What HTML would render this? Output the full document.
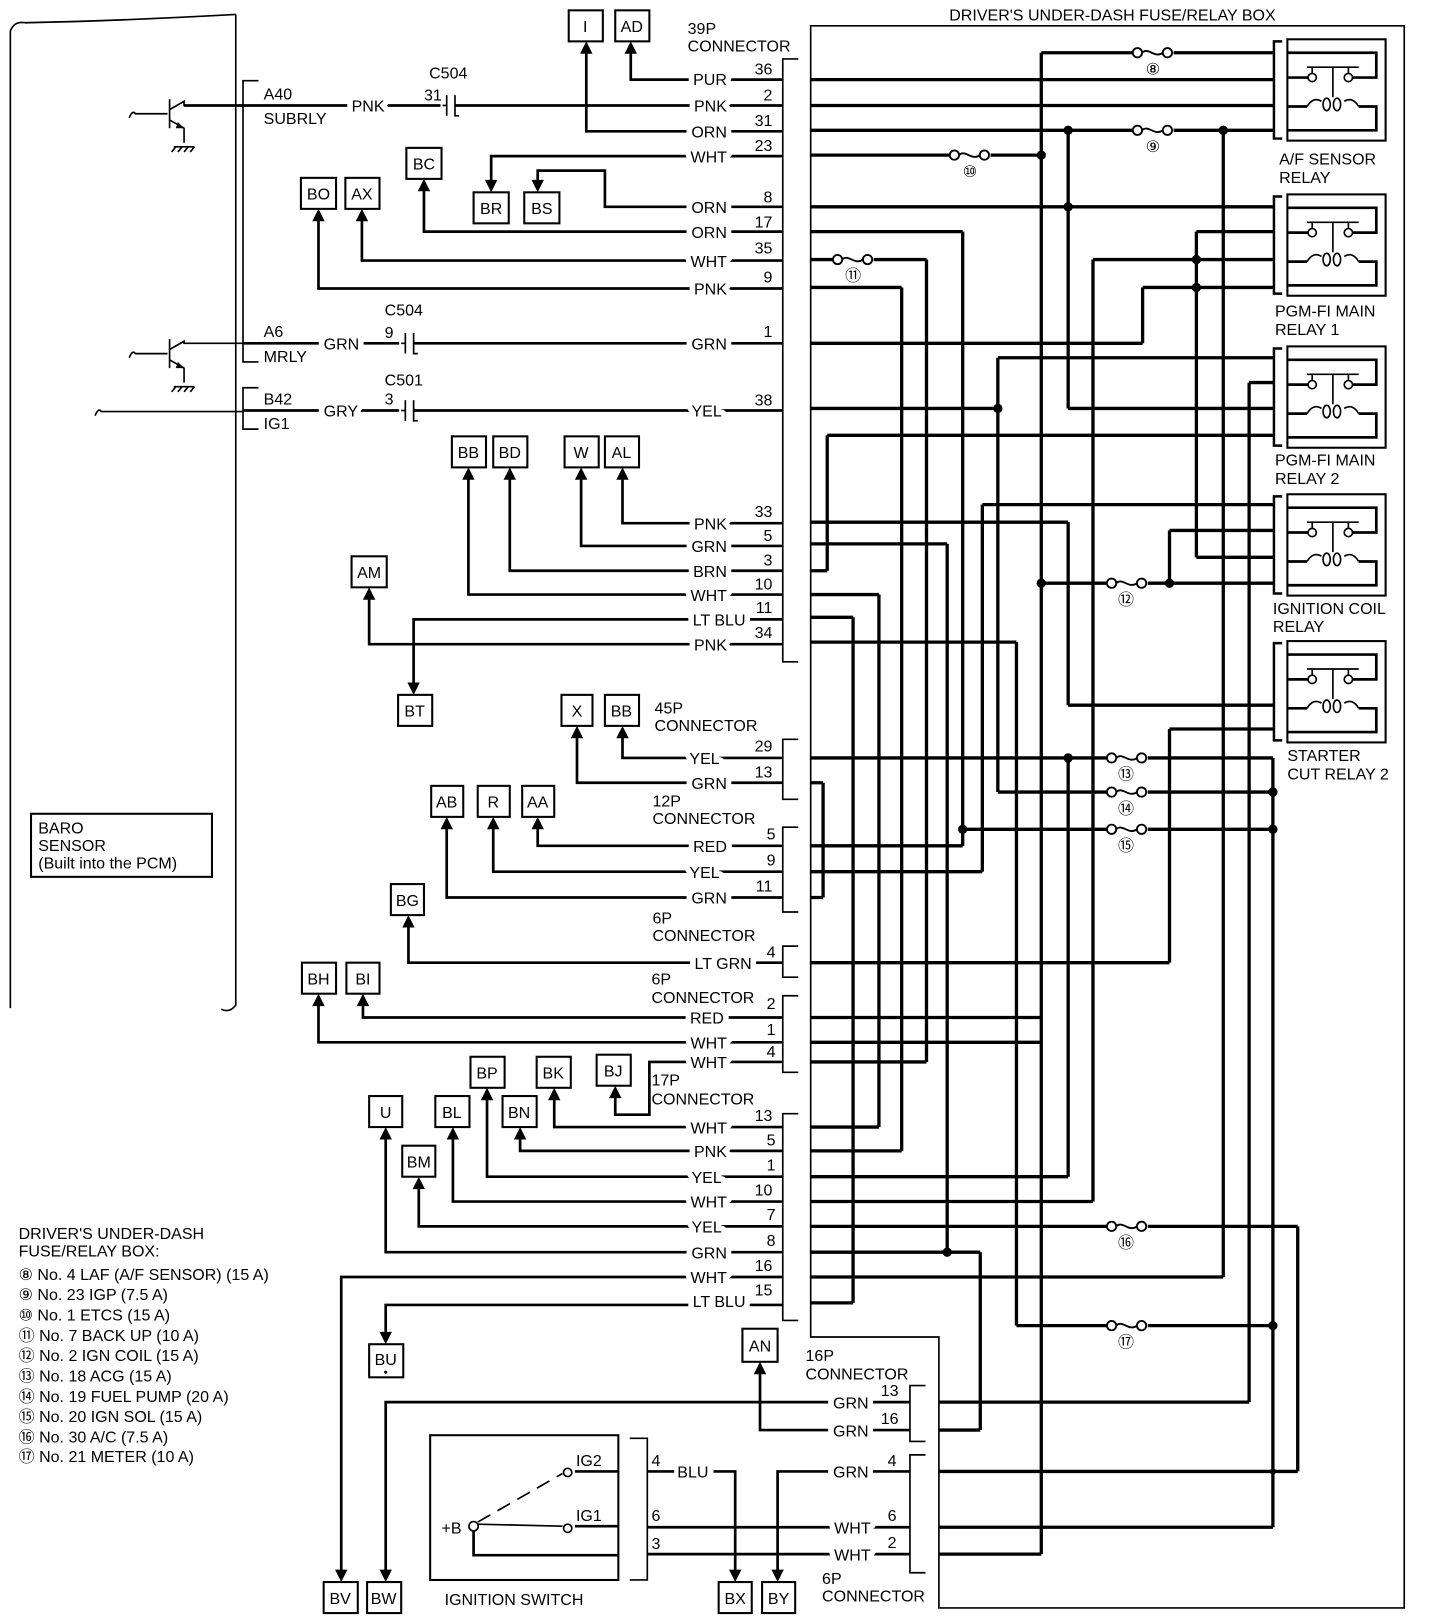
<!DOCTYPE html>
<html><head><meta charset="utf-8"><style>
html,body{margin:0;padding:0;background:#fff}
svg{display:block}
text{font-family:"Liberation Sans",Arial,sans-serif;font-size:15.5px;fill:#000}
.lb{paint-order:stroke;stroke:#fff;stroke-width:11px;stroke-linejoin:round}
.bx{font-size:16px;text-anchor:middle}
.fn{font-size:14px;text-anchor:middle}
.lg{font-size:16.5px}
.w{fill:none;stroke:#000;stroke-width:2.6}
.t{fill:none;stroke:#000;stroke-width:3.2}
.n{fill:none;stroke:#000;stroke-width:1.6}
</style></head><body>
<svg width="1440" height="1620" viewBox="0 0 1392.6 1566.7" preserveAspectRatio="none" xmlns="http://www.w3.org/2000/svg">
<rect width="1393" height="1567" fill="#fff"/>

<!-- PCM box -->
<path class="n" d="M10,30 Q14,20 24,22 M10,30 V975 M228,14 V972 Q222,980 214,976" stroke-width="2"/>
<path class="n" d="M24,22 Q120,20 228,14" stroke-width="1"/>

<!-- PCM brackets -->
<path class="n" d="M250,78 H235 V350 H250 M250,375 H235 V415 H250" stroke-width="2"/>
<text x="255" y="96">A40</text><text x="255" y="120">SUBRLY</text>
<text x="255" y="326">A6</text><text x="255" y="350">MRLY</text>
<text x="255" y="391">B42</text><text x="255" y="415">IG1</text>

<!-- transistors -->
<g class="n" stroke-width="2">
<path d="M125,114 q3,-8 6,-4 H162 M164,96 V124 M164,106 L178,98 V102 H235 M164,116 L178,124 V138"/>
<path d="M168,142 H188 M170,142 l-4,5 M176,142 l-4,5 M182,142 l-4,5 M188,142 l-4,5"/>
<path d="M125,346 q3,-8 6,-4 H162 M164,328 V356 M164,338 L178,330 V332 H235 M164,348 L178,356 V370"/>
<path d="M168,374 H188 M170,374 l-4,5 M176,374 l-4,5 M182,374 l-4,5 M188,374 l-4,5"/>
<path d="M92,402 q3,-8 6,-4 H235"/>
</g>
<polygon points="178,124 172,118 170,124"/><polygon points="178,356 172,350 170,356"/>

<!-- 39P left wires -->
<g class="w">
<path d="M610,46 V77 H757"/>
<path d="M178,102 H757"/>
<path d="M567,46 V127 H757"/>
<path d="M475,180 V151 H757"/>
<path d="M520,180 V165 H585 V200 H757"/>
<path d="M410,178 V224 H757"/>
<path d="M350,208 V252 H757"/>
<path d="M308,208 V279 H757"/>
<path d="M235,332 H757"/>
<path d="M235,397 H757"/>
<path d="M602,458 V506 H757"/>
<path d="M562,458 V528 H757"/>
<path d="M493,458 V552 H757"/>
<path d="M453,458 V575 H757"/>
<path d="M400,666 V599 H757"/>
<path d="M357,574 V623 H757"/>
</g>
<g fill="#fff" stroke="#000" stroke-width="2">
<rect x="426" y="92" width="14" height="20" stroke="none"/>
<rect x="386" y="322" width="14" height="20" stroke="none"/>
<rect x="386" y="387" width="14" height="20" stroke="none"/>
</g>
<path class="n" stroke-width="2" d="M428,102 H432 M432,92 V112 M440,92 V112 H444 M388,332 H392 M392,322 V342 M400,322 V342 H404 M388,397 H392 M392,387 V407 M400,387 V407 H404"/>
<text x="415" y="76">C504</text><text x="410" y="97">31</text>
<text x="372" y="305">C504</text><text x="372" y="327">9</text>
<text x="372" y="373">C501</text><text x="372" y="391">3</text>
<text class="lb" x="340" y="108">PNK</text>
<text class="lb" x="313" y="338">GRN</text>
<text class="lb" x="313" y="403">GRY</text>

<!-- 39P labels -->
<g text-anchor="end">
<text class="lb" x="703" y="82">PUR</text>
<text class="lb" x="703" y="108">PNK</text>
<text class="lb" x="703" y="133">ORN</text>
<text class="lb" x="703" y="157">WHT</text>
<text class="lb" x="703" y="206">ORN</text>
<text class="lb" x="703" y="230">ORN</text>
<text class="lb" x="703" y="258">WHT</text>
<text class="lb" x="703" y="285">PNK</text>
<text class="lb" x="703" y="338">GRN</text>
<text class="lb" x="698" y="403">YEL</text>
<text class="lb" x="703" y="512">PNK</text>
<text class="lb" x="703" y="534">GRN</text>
<text class="lb" x="703" y="558">BRN</text>
<text class="lb" x="703" y="581">WHT</text>
<text class="lb" x="721" y="605">LT BLU</text>
<text class="lb" x="703" y="629">PNK</text>
</g>
<g text-anchor="end">
<text x="747" y="72">36</text><text x="747" y="97">2</text><text x="747" y="122">31</text><text x="747" y="146">23</text>
<text x="747" y="196">8</text><text x="747" y="220">17</text><text x="747" y="245">35</text><text x="747" y="273">9</text>
<text x="747" y="326">1</text><text x="747" y="392">38</text><text x="747" y="500">33</text><text x="747" y="523">5</text>
<text x="747" y="547">3</text><text x="747" y="570">10</text><text x="747" y="593">11</text><text x="747" y="617">34</text>
</g>
<path class="n" stroke-width="2" d="M772,57 H757 V640 H772"/>
<text x="665" y="33">39P</text><text x="665" y="50">CONNECTOR</text>

<!-- lower connectors left wires -->
<g class="w">
<path d="M602,708 V733 H757"/>
<path d="M558,708 V757 H757"/>
<path d="M520,796 V818 H757"/>
<path d="M477,796 V843 H757"/>
<path d="M432,796 V868 H757"/>
<path d="M395,891 V931 H757"/>
<path d="M351,967 V984 H757"/>
<path d="M308,967 V1008 H757"/>
<path d="M595,1056 V1078 H628 V1027 H757"/>
<path d="M536,1058 V1090 H757"/>
<path d="M503,1096 V1113 H757"/>
<path d="M471,1058 V1138 H757"/>
<path d="M438,1096 V1162 H757"/>
<path d="M405,1144 V1186 H757"/>
<path d="M373,1096 V1211 H757"/>
<path d="M330,1524 V1235 H757"/>
<path d="M373,1294 V1262 H757"/>
<path d="M373,1524 V1356 H880"/>
<path d="M735,1323 V1383 H880"/>
<path d="M711,1524 V1423 H690"/>
<path d="M626,1423 H652"/>
<path d="M752,1524 V1423 H880"/>
<path d="M626,1477 H880 M626,1503 H880"/>
</g>
<g class="n" stroke-width="2">
<path d="M772,715 H757 V773 H772"/>
<path d="M772,800 H757 V882 H772"/>
<path d="M772,915 H757 V945 H772"/>
<path d="M772,963 H757 V1037 H772"/>
<path d="M772,1077 H757 V1277 H772"/>
<path d="M895,1340 H880 V1394 H895"/>
<path d="M895,1407 H880 V1521 H895"/>
<path d="M609,1391 H626 V1528 H609"/>
</g>
<g text-anchor="end">
<text class="lb" x="696" y="739">YEL</text><text class="lb" x="703" y="763">GRN</text>
<text class="lb" x="703" y="824">RED</text><text class="lb" x="696" y="849">YEL</text><text class="lb" x="703" y="874">GRN</text>
<text class="lb" x="727" y="937">LT GRN</text>
<text class="lb" x="700" y="990">RED</text><text class="lb" x="703" y="1014">WHT</text><text class="lb" x="703" y="1033">WHT</text>
<text class="lb" x="703" y="1096">WHT</text><text class="lb" x="703" y="1119">PNK</text><text class="lb" x="698" y="1144">YEL</text>
<text class="lb" x="703" y="1168">WHT</text><text class="lb" x="698" y="1192">YEL</text><text class="lb" x="703" y="1217">GRN</text>
<text class="lb" x="703" y="1241">WHT</text><text class="lb" x="721" y="1264">LT BLU</text>
<text class="lb" x="840" y="1362">GRN</text><text class="lb" x="840" y="1389">GRN</text>
<text class="lb" x="840" y="1429">GRN</text><text class="lb" x="842" y="1483">WHT</text><text class="lb" x="842" y="1509">WHT</text>
</g>
<g text-anchor="end">
<text x="747" y="727">29</text><text x="747" y="752">13</text>
<text x="750" y="812">5</text><text x="750" y="837">9</text><text x="747" y="862">11</text>
<text x="750" y="926">4</text>
<text x="750" y="976">2</text><text x="750" y="1001">1</text><text x="750" y="1022">4</text>
<text x="747" y="1084">13</text><text x="750" y="1108">5</text><text x="750" y="1132">1</text><text x="747" y="1156">10</text>
<text x="750" y="1180">7</text><text x="750" y="1205">8</text><text x="747" y="1229">16</text><text x="747" y="1253">15</text>
<text x="869" y="1350">13</text><text x="869" y="1377">16</text>
<text x="867" y="1418">4</text><text x="867" y="1471">6</text><text x="867" y="1497">2</text>
</g>
<text x="633" y="690">45P</text><text x="633" y="707">CONNECTOR</text>
<text x="631" y="780">12P</text><text x="631" y="797">CONNECTOR</text>
<text x="631" y="893">6P</text><text x="631" y="910">CONNECTOR</text>
<text x="630" y="952">6P</text><text x="630" y="970">CONNECTOR</text>
<text x="630" y="1050">17P</text><text x="630" y="1068">CONNECTOR</text>
<text x="779" y="1316">16P</text><text x="779" y="1334">CONNECTOR</text>
<text x="795" y="1532">6P</text><text x="795" y="1549">CONNECTOR</text>
<text x="630" y="1418">4</text><text x="655" y="1429">BLU</text>
<text x="630" y="1471">6</text><text x="630" y="1498">3</text>

<!-- ignition switch -->
<rect x="416" y="1388" width="182" height="140" fill="none" stroke="#000" stroke-width="2"/>
<path class="w" d="M556,1423 H598 M556,1476 H598 M458,1480 V1504 H598"/>
<path class="n" d="M462,1474 L544,1476"/>
<path class="n" stroke-dasharray="14,8" d="M462,1472 L544,1425"/>
<circle cx="458" cy="1476" r="4.5" fill="#fff" stroke="#000" stroke-width="1.6"/>
<circle cx="549" cy="1478" r="4" fill="#fff" stroke="#000" stroke-width="1.6"/>
<circle cx="549" cy="1424" r="4" fill="#fff" stroke="#000" stroke-width="1.6"/>
<text x="427" y="1483">+B</text><text x="557" y="1418">IG2</text><text x="557" y="1471">IG1</text>
<text x="430" y="1552">IGNITION SWITCH</text>

<!-- arrows -->
<g>
<polygon points="610,40 604,52 616,52"/><polygon points="567,40 561,52 573,52"/>
<polygon points="475,186 469,174 481,174"/><polygon points="520,186 514,174 526,174"/>
<polygon points="410,173 404,185 416,185"/><polygon points="350,202 344,214 356,214"/><polygon points="308,202 302,214 314,214"/>
<polygon points="602,452 596,464 608,464"/><polygon points="562,452 556,464 568,464"/>
<polygon points="493,452 487,464 499,464"/><polygon points="453,452 447,464 459,464"/>
<polygon points="400,672 394,660 406,660"/><polygon points="357,568 351,580 363,580"/>
<polygon points="602,702 596,714 608,714"/><polygon points="558,702 552,714 564,714"/>
<polygon points="520,790 514,802 526,802"/><polygon points="477,790 471,802 483,802"/><polygon points="432,790 426,802 438,802"/>
<polygon points="395,885 389,897 401,897"/><polygon points="351,961 345,973 357,973"/><polygon points="308,961 302,973 314,973"/>
<polygon points="595,1050 589,1062 601,1062"/><polygon points="536,1052 530,1064 542,1064"/>
<polygon points="503,1090 497,1102 509,1102"/><polygon points="471,1052 465,1064 477,1064"/>
<polygon points="438,1090 432,1102 444,1102"/><polygon points="405,1138 399,1150 411,1150"/>
<polygon points="373,1090 367,1102 379,1102"/><polygon points="373,1300 367,1288 379,1288"/>
<polygon points="330,1530 324,1518 336,1518"/><polygon points="373,1530 367,1518 379,1518"/>
<polygon points="711,1530 705,1518 717,1518"/><polygon points="752,1530 746,1518 758,1518"/>
<polygon points="735,1317 729,1329 741,1329"/>
</g>

<!-- boxes -->
<g fill="#fff" stroke="#000" stroke-width="2">
<rect x="550" y="10" width="33" height="30"/><rect x="595" y="10" width="33" height="30"/>
<rect x="393" y="143" width="34" height="30"/><rect x="458" y="186" width="34" height="30"/><rect x="507" y="186" width="34" height="30"/>
<rect x="291" y="172" width="34" height="30"/><rect x="334" y="172" width="33" height="30"/>
<rect x="437" y="422" width="33" height="30"/><rect x="477" y="422" width="33" height="30"/>
<rect x="546" y="422" width="33" height="30"/><rect x="585" y="422" width="33" height="30"/>
<rect x="340" y="538" width="34" height="30"/><rect x="385" y="672" width="33" height="30"/>
<rect x="543" y="672" width="30" height="30"/><rect x="585" y="672" width="33" height="30"/>
<rect x="417" y="760" width="31" height="30"/><rect x="462" y="760" width="31" height="30"/><rect x="505" y="760" width="31" height="30"/>
<rect x="378" y="855" width="32" height="30"/><rect x="292" y="931" width="33" height="30"/><rect x="335" y="931" width="32" height="30"/>
<rect x="455" y="1022" width="33" height="30"/><rect x="519" y="1022" width="33" height="30"/><rect x="577" y="1020" width="33" height="30"/>
<rect x="357" y="1060" width="32" height="30"/><rect x="421" y="1060" width="33" height="30"/><rect x="486" y="1060" width="33" height="30"/>
<rect x="389" y="1108" width="32" height="30"/><rect x="357" y="1300" width="33" height="32"/><rect x="718" y="1285" width="34" height="32"/>
<rect x="313" y="1530" width="33" height="30"/><rect x="355" y="1530" width="33" height="30"/>
<rect x="695" y="1530" width="32" height="30"/><rect x="737" y="1530" width="32" height="30"/>
<rect x="30" y="787" width="175" height="61"/>
</g>
<g class="bx">
<text x="566" y="31">I</text><text x="611" y="31">AD</text><text x="410" y="164">BC</text><text x="475" y="207">BR</text><text x="524" y="207">BS</text>
<text x="308" y="193">BO</text><text x="350" y="193">AX</text><text x="453" y="443">BB</text><text x="493" y="443">BD</text>
<text x="562" y="443">W</text><text x="601" y="443">AL</text><text x="357" y="559">AM</text><text x="401" y="693">BT</text>
<text x="558" y="693">X</text><text x="601" y="693">BB</text><text x="432" y="781">AB</text><text x="477" y="781">R</text><text x="520" y="781">AA</text>
<text x="394" y="876">BG</text><text x="308" y="952">BH</text><text x="351" y="952">BI</text>
<text x="471" y="1043">BP</text><text x="535" y="1043">BK</text><text x="593" y="1041">BJ</text>
<text x="373" y="1081">U</text><text x="437" y="1081">BL</text><text x="502" y="1081">BN</text><text x="405" y="1129">BM</text>
<text x="373" y="1320">BU</text><text x="735" y="1307">AN</text>
<text x="329" y="1551">BV</text><text x="371" y="1551">BW</text><text x="711" y="1551">BX</text><text x="753" y="1551">BY</text>
</g>
<circle cx="373" cy="1327" r="1.5"/>
<text x="37" y="806">BARO</text><text x="37" y="823">SENSOR</text><text x="37" y="840">(Built into the PCM)</text>

<!-- legend -->
<g class="lg">
<text x="18" y="1198">DRIVER'S UNDER-DASH</text><text x="18" y="1215">FUSE/RELAY BOX:</text>
<text x="18" y="1238">⑧ No. 4 LAF (A/F SENSOR) (15 A)</text>
<text x="18" y="1257">⑨ No. 23 IGP (7.5 A)</text>
<text x="18" y="1277">⑩ No. 1 ETCS (15 A)</text>
<text x="18" y="1297">⑪ No. 7 BACK UP (10 A)</text>
<text x="18" y="1316">⑫ No. 2 IGN COIL (15 A)</text>
<text x="18" y="1336">⑬ No. 18 ACG (15 A)</text>
<text x="18" y="1356">⑭ No. 19 FUEL PUMP (20 A)</text>
<text x="18" y="1375">⑮ No. 20 IGN SOL (15 A)</text>
<text x="18" y="1395">⑯ No. 30 A/C (7.5 A)</text>
<text x="18" y="1414">⑰ No. 21 METER (10 A)</text>
</g>

<!-- fuse box frame -->
<path class="n" stroke-width="2" d="M784,1293 V25 H1358 V1555 H908 V1293 Z"/>
<text x="918" y="20">DRIVER'S UNDER-DASH FUSE/RELAY BOX</text>

<!-- fuse box wiring -->
<g class="t">
<path d="M784,77 H1232 M784,102 H1232 M784,126 H1232 M1007,51 H1232 M784,150 H1007 M784,200 H1232 M784,224 H931 M1157,224 H1232 M784,251 H896 M1057,251 H1232 M784,278 H872 M1105,278 H1232 M784,332 H1105 M965,346 H1232 M1208,370 H1232 M784,395 H965 M1033,395 H1232 M800,421 H1232"/>
<path d="M950,488 H1232 M784,505 H1033 M1131,513 H1232 M784,526 H916 M1157,539 H1232 M784,552 H800 M1007,564 H1232 M784,575 H850 M784,597 H825 M784,621 H983 M1033,682 H1232 M1131,705 H1232"/>
<path d="M784,733 H1231 M784,757 H796 M965,766 H1231 M931,802 H1231 M784,818 H931 M784,843 H950 M784,868 H796 M784,931 H1131 M784,984 H1007 M784,1008 H1007 M784,1027 H896 M784,1090 H850 M784,1113 H872 M784,1138 H1033 M784,1162 H1057 M784,1186 H1255 M784,1211 H948 M784,1235 H1183 M784,1260 H825 M983,1282 H1232"/>
<path d="M908,1356 H1208 M908,1383 H948 M908,1423 H1255 M908,1477 H1231 M908,1503 H1007"/>
<path d="M1007,51 V1503 M1033,126 V395 M1033,505 V682 M1033,733 V1138 M931,224 V818 M896,251 V1027 M872,278 V1113 M1157,224 V539 M1057,251 V1162 M1105,278 V332 M965,346 V766 M1208,370 V1356 M800,421 V552 M950,488 V843 M1131,513 V564 M1131,705 V931 M916,526 V1211 M850,575 V1090 M825,597 V1260 M983,621 V1282 M796,757 V868 M1183,126 V1235 M1231,733 V1477 M1255,1186 V1423 M948,1211 V1383"/>
</g>
<g>
<circle cx="1033" cy="126" r="4.5"/><circle cx="1183" cy="126" r="4.5"/><circle cx="1007" cy="150" r="4.5"/><circle cx="1033" cy="200" r="4.5"/>
<circle cx="1157" cy="251" r="4.5"/><circle cx="1157" cy="278" r="4.5"/><circle cx="965" cy="395" r="4.5"/><circle cx="1007" cy="564" r="4.5"/>
<circle cx="1131" cy="564" r="4.5"/><circle cx="1033" cy="733" r="4.5"/><circle cx="1231" cy="766" r="4.5"/><circle cx="931" cy="802" r="4.5"/>
<circle cx="1231" cy="802" r="4.5"/><circle cx="916" cy="1211" r="4.5"/><circle cx="1231" cy="1282" r="4.5"/><circle cx="1231" cy="1423" r="3"/>
</g>

<!-- fuses -->
<defs>
<g id="fz"><rect x="0" y="-6" width="40" height="12" fill="#fff" stroke="none"/><circle cx="5" cy="0" r="4.5" fill="#fff"/><circle cx="34" cy="0" r="4.5" fill="#fff"/><path d="M9.5,0 C15,-6 22,6 29.5,0" fill="none"/></g>
</defs>
<g stroke="#000" stroke-width="1.8">
<use href="#fz" transform="translate(1095,51)"/>
<use href="#fz" transform="translate(1095,126)"/>
<use href="#fz" transform="translate(918,150)"/>
<use href="#fz" transform="translate(805,251)"/>
<use href="#fz" transform="translate(1070,564)"/>
<use href="#fz" transform="translate(1070,733)"/>
<use href="#fz" transform="translate(1070,766)"/>
<use href="#fz" transform="translate(1070,802)"/>
<use href="#fz" transform="translate(1070,1186)"/>
<use href="#fz" transform="translate(1070,1282)"/>
</g>
<g class="fn">
<text x="1115" y="72">⑧</text><text x="1115" y="147">⑨</text><text x="938" y="171">⑩</text><text x="825" y="272">⑪</text>
<text x="1089" y="585">⑫</text><text x="1089" y="754">⑬</text><text x="1089" y="787">⑭</text><text x="1089" y="823">⑮</text>
<text x="1089" y="1207">⑯</text><text x="1089" y="1303">⑰</text>
</g>

<!-- relays -->
<defs>
<g id="rly">
<path d="M1240,2 H1232 V96 H1240" fill="none" stroke="#000" stroke-width="2.4"/>
<rect x="1245" y="0" width="95" height="98" fill="#fff" stroke="#000" stroke-width="2"/>
<path d="M1245,13 H1331 V37 H1308 M1245,37 H1265 M1245,65 H1264 M1314,65 H1331 V88 H1245" fill="none" stroke="#000" stroke-width="2.6"/>
<circle cx="1269" cy="37" r="4" fill="#fff" stroke="#000" stroke-width="1.6"/>
<circle cx="1304" cy="37" r="4" fill="#fff" stroke="#000" stroke-width="1.6"/>
<path d="M1264,27 H1314 M1269,27 V33 M1304,27 V33 M1289,27 V56" fill="none" stroke="#000" stroke-width="1.6"/>
<path d="M1264,65 Q1270,55 1278,60 M1300,60 Q1308,55 1314,65" fill="none" stroke="#000" stroke-width="1.6"/>
<ellipse cx="1283" cy="63" rx="3.5" ry="6" fill="none" stroke="#000" stroke-width="1.6"/>
<ellipse cx="1293" cy="63" rx="3.5" ry="6" fill="none" stroke="#000" stroke-width="1.6"/>
</g>
</defs>
<use href="#rly" transform="translate(0,38)"/>
<use href="#rly" transform="translate(0,188)"/>
<use href="#rly" transform="translate(0,335)"/>
<use href="#rly" transform="translate(0,478)"/>
<use href="#rly" transform="translate(0,620)"/>
<text x="1237" y="159">A/F SENSOR</text><text x="1237" y="177">RELAY</text>
<text x="1233" y="306">PGM-FI MAIN</text><text x="1233" y="324">RELAY 1</text>
<text x="1233" y="450">PGM-FI MAIN</text><text x="1233" y="468">RELAY 2</text>
<text x="1231" y="594">IGNITION COIL</text><text x="1231" y="611">RELAY</text>
<text x="1245" y="736">STARTER</text><text x="1245" y="754">CUT RELAY 2</text>
</svg>
</body></html>
